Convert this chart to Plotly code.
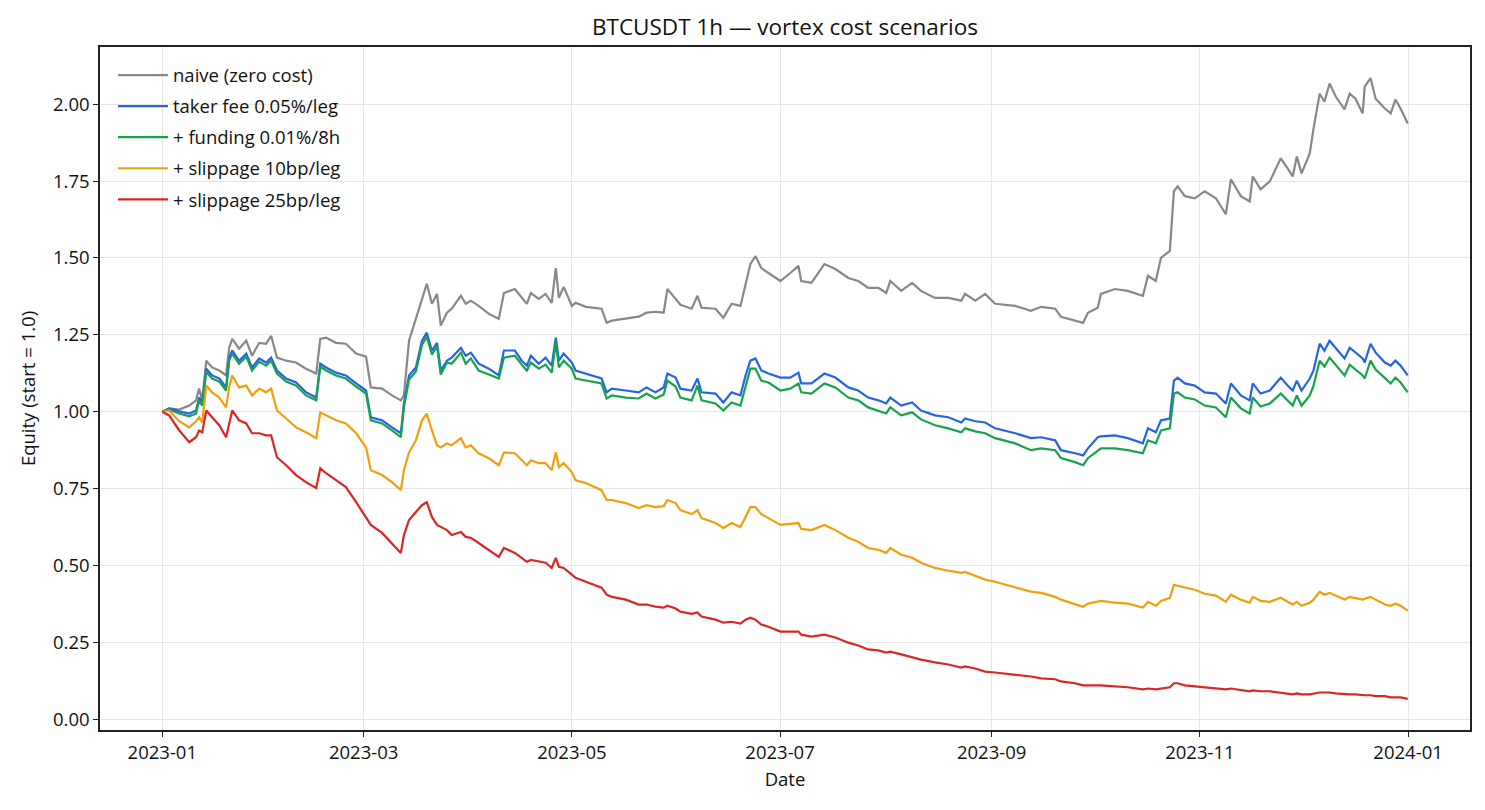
import pandas as pd
import plotly.graph_objects as go

# days since 2023-01-01 00:00 (hourly backtest, sampled at readable turning points)
start_date = "2023-01-01"
days = [
    0, 2.0, 5.0, 7.9, 9.9, 10.8, 11.7, 12.9, 14.6, 16.7,
    18.7, 19.6, 20.5, 22.5, 24.6, 26.3, 28.4, 30.4, 31.9, 33.6,
    36.3, 39.2, 42.1, 45.1, 46.3, 48.0, 50.9, 53.8, 56.8, 59.7,
    61.1, 64.4, 67.3, 69.9, 70.8, 72.3, 74.3, 76.1, 77.5, 79.0,
    80.5, 81.6, 83.4, 84.8, 87.5, 88.9, 90.4, 92.7, 95.7, 98.6,
    100.1, 103.3, 105.3, 106.8, 108.0, 110.3, 112.3, 114.1, 115.3, 116.2,
    117.6, 120.0, 121.1, 124.1, 128.7, 130.2, 131.7, 135.8, 139.6, 141.9,
    144.5, 146.9, 148.0, 150.4, 151.8, 155.1, 156.8, 158.0, 162.1, 164.4,
    166.8, 169.4, 170.9, 172.3, 173.8, 175.5, 177.6, 181.1, 184.0, 186.4,
    187.2, 190.2, 194.0, 197.2, 201.0, 203.9, 206.8, 209.8, 212.1, 213.3,
    216.5, 219.7, 222.3, 226.4, 230.3, 234.1, 235.2, 238.2, 241.1, 244.0,
    249.9, 254.5, 257.5, 261.6, 263.3, 267.4, 269.8, 271.2, 274.1, 275.0,
    279.1, 282.9, 287.3, 288.8, 291.1, 292.6, 295.2, 296.4, 297.5, 299.6,
    302.5, 305.4, 308.7, 311.6, 313.1, 316.0, 318.6, 319.5, 321.8, 324.5,
    327.7, 329.7, 331.2, 332.4, 333.8, 336.2, 337.3, 339.1, 340.5, 342.0,
    343.8, 346.4, 347.9, 349.6, 351.7, 352.3, 354.0, 355.5, 358.2, 359.9,
    361.3, 362.8, 364.9,
]

naive = [
    1.000, 1.011, 1.007, 1.020, 1.037, 1.075, 1.037, 1.166, 1.144, 1.134,
    1.118, 1.208, 1.237, 1.205, 1.231, 1.182, 1.224, 1.221, 1.247, 1.176,
    1.166, 1.160, 1.140, 1.124, 1.237, 1.241, 1.224, 1.221, 1.189, 1.179,
    1.079, 1.075, 1.053, 1.037, 1.053, 1.231, 1.302, 1.370, 1.416, 1.351,
    1.383, 1.280, 1.322, 1.335, 1.377, 1.351, 1.361, 1.344, 1.318, 1.302,
    1.386, 1.399, 1.370, 1.351, 1.386, 1.367, 1.383, 1.354, 1.467, 1.370,
    1.406, 1.344, 1.354, 1.341, 1.335, 1.289, 1.296, 1.302, 1.309, 1.322,
    1.325, 1.322, 1.399, 1.367, 1.348, 1.335, 1.377, 1.338, 1.335, 1.305,
    1.351, 1.344, 1.419, 1.480, 1.506, 1.467, 1.451, 1.425, 1.451, 1.474,
    1.425, 1.419, 1.480, 1.464, 1.435, 1.425, 1.403, 1.403, 1.386, 1.425,
    1.393, 1.419, 1.393, 1.370, 1.370, 1.361, 1.383, 1.361, 1.383, 1.351,
    1.344, 1.328, 1.341, 1.335, 1.309, 1.296, 1.289, 1.322, 1.338, 1.383,
    1.399, 1.393, 1.377, 1.442, 1.425, 1.500, 1.523, 1.717, 1.733, 1.701,
    1.694, 1.717, 1.694, 1.642, 1.756, 1.701, 1.684, 1.765, 1.723, 1.749,
    1.824, 1.791, 1.765, 1.830, 1.775, 1.840, 1.921, 2.034, 2.008, 2.067,
    2.025, 1.983, 2.034, 2.018, 1.970, 2.057, 2.085, 2.018, 1.986, 1.970,
    2.015, 1.986, 1.937,
]

taker_fee = [
    1.000, 1.011, 1.001, 0.994, 1.004, 1.046, 1.030, 1.140, 1.118, 1.108,
    1.079, 1.176, 1.199, 1.166, 1.189, 1.144, 1.173, 1.160, 1.176, 1.134,
    1.108, 1.095, 1.063, 1.046, 1.156, 1.144, 1.127, 1.118, 1.092, 1.069,
    0.982, 0.972, 0.949, 0.930, 1.027, 1.118, 1.144, 1.231, 1.257, 1.199,
    1.224, 1.134, 1.166, 1.176, 1.208, 1.182, 1.192, 1.156, 1.140, 1.118,
    1.199, 1.199, 1.166, 1.150, 1.182, 1.156, 1.176, 1.150, 1.241, 1.166,
    1.189, 1.160, 1.134, 1.124, 1.108, 1.063, 1.075, 1.069, 1.063, 1.079,
    1.063, 1.079, 1.124, 1.111, 1.075, 1.069, 1.108, 1.063, 1.059, 1.030,
    1.063, 1.053, 1.118, 1.166, 1.173, 1.134, 1.124, 1.111, 1.111, 1.127,
    1.092, 1.092, 1.124, 1.111, 1.079, 1.069, 1.046, 1.037, 1.027, 1.046,
    1.020, 1.030, 1.004, 0.988, 0.982, 0.965, 0.978, 0.969, 0.965, 0.946,
    0.930, 0.914, 0.917, 0.907, 0.875, 0.865, 0.858, 0.881, 0.917, 0.920,
    0.923, 0.914, 0.897, 0.946, 0.933, 0.972, 0.978, 1.101, 1.111, 1.092,
    1.085, 1.063, 1.059, 1.027, 1.092, 1.053, 1.037, 1.092, 1.059, 1.069,
    1.111, 1.085, 1.069, 1.101, 1.069, 1.108, 1.134, 1.221, 1.199, 1.231,
    1.208, 1.173, 1.208, 1.192, 1.173, 1.160, 1.221, 1.192, 1.160, 1.150,
    1.166, 1.150, 1.118,
]

with_funding = [
    1.000, 1.007, 0.994, 0.985, 0.994, 1.037, 1.020, 1.131, 1.108, 1.098,
    1.069, 1.166, 1.189, 1.156, 1.179, 1.134, 1.163, 1.150, 1.166, 1.124,
    1.098, 1.085, 1.053, 1.037, 1.147, 1.134, 1.118, 1.108, 1.082, 1.059,
    0.972, 0.962, 0.939, 0.917, 1.014, 1.105, 1.131, 1.218, 1.244, 1.186,
    1.212, 1.121, 1.160, 1.156, 1.192, 1.156, 1.173, 1.134, 1.121, 1.108,
    1.176, 1.182, 1.153, 1.134, 1.160, 1.140, 1.153, 1.127, 1.224, 1.144,
    1.166, 1.140, 1.108, 1.101, 1.092, 1.043, 1.053, 1.046, 1.043, 1.059,
    1.043, 1.056, 1.101, 1.082, 1.046, 1.037, 1.085, 1.037, 1.027, 1.004,
    1.030, 1.020, 1.085, 1.140, 1.140, 1.101, 1.095, 1.069, 1.075, 1.092,
    1.063, 1.059, 1.092, 1.079, 1.046, 1.037, 1.014, 1.004, 0.994, 1.014,
    0.988, 0.998, 0.975, 0.956, 0.946, 0.933, 0.946, 0.936, 0.930, 0.914,
    0.897, 0.875, 0.881, 0.875, 0.849, 0.836, 0.826, 0.849, 0.875, 0.881,
    0.881, 0.875, 0.865, 0.907, 0.897, 0.939, 0.946, 1.059, 1.063, 1.046,
    1.040, 1.020, 1.014, 0.982, 1.046, 1.011, 0.994, 1.046, 1.017, 1.027,
    1.059, 1.037, 1.020, 1.053, 1.020, 1.053, 1.085, 1.166, 1.147, 1.176,
    1.153, 1.118, 1.153, 1.137, 1.118, 1.108, 1.166, 1.137, 1.108, 1.092,
    1.111, 1.095, 1.063,
]

slip_10bp = [
    1.000, 1.004, 0.969, 0.949, 0.969, 0.982, 0.965, 1.085, 1.063, 1.046,
    1.014, 1.079, 1.118, 1.079, 1.085, 1.053, 1.075, 1.063, 1.075, 1.004,
    0.978, 0.949, 0.933, 0.914, 0.998, 0.988, 0.972, 0.962, 0.930, 0.884,
    0.810, 0.794, 0.771, 0.745, 0.810, 0.868, 0.907, 0.972, 0.994, 0.939,
    0.891, 0.884, 0.897, 0.891, 0.914, 0.884, 0.891, 0.865, 0.849, 0.826,
    0.868, 0.865, 0.842, 0.826, 0.842, 0.833, 0.833, 0.810, 0.868, 0.820,
    0.833, 0.803, 0.777, 0.768, 0.745, 0.713, 0.713, 0.703, 0.687, 0.696,
    0.690, 0.693, 0.713, 0.703, 0.680, 0.667, 0.680, 0.654, 0.638, 0.622,
    0.638, 0.625, 0.658, 0.690, 0.690, 0.667, 0.654, 0.632, 0.635, 0.638,
    0.619, 0.615, 0.632, 0.615, 0.590, 0.577, 0.557, 0.551, 0.541, 0.557,
    0.535, 0.525, 0.509, 0.492, 0.483, 0.476, 0.479, 0.466, 0.454, 0.447,
    0.428, 0.415, 0.411, 0.398, 0.389, 0.373, 0.366, 0.376, 0.382, 0.385,
    0.379, 0.376, 0.363, 0.382, 0.369, 0.385, 0.395, 0.437, 0.434, 0.428,
    0.421, 0.408, 0.402, 0.382, 0.405, 0.389, 0.379, 0.398, 0.385, 0.382,
    0.395, 0.382, 0.373, 0.382, 0.369, 0.379, 0.389, 0.415, 0.405, 0.411,
    0.402, 0.389, 0.398, 0.395, 0.389, 0.392, 0.398, 0.389, 0.373, 0.369,
    0.376, 0.369, 0.353,
]

slip_25bp = [
    1.000, 0.988, 0.939, 0.901, 0.917, 0.939, 0.933, 1.004, 0.982, 0.956,
    0.917, 0.956, 1.004, 0.972, 0.962, 0.930, 0.930, 0.923, 0.923, 0.852,
    0.826, 0.794, 0.771, 0.752, 0.816, 0.800, 0.777, 0.755, 0.706, 0.654,
    0.632, 0.606, 0.573, 0.541, 0.599, 0.648, 0.674, 0.696, 0.706, 0.658,
    0.632, 0.625, 0.615, 0.599, 0.609, 0.593, 0.590, 0.573, 0.551, 0.528,
    0.557, 0.541, 0.525, 0.512, 0.518, 0.512, 0.509, 0.492, 0.525, 0.496,
    0.492, 0.470, 0.460, 0.447, 0.428, 0.405, 0.398, 0.389, 0.373, 0.373,
    0.366, 0.363, 0.369, 0.360, 0.350, 0.343, 0.347, 0.334, 0.324, 0.314,
    0.317, 0.311, 0.324, 0.330, 0.324, 0.308, 0.301, 0.285, 0.285, 0.285,
    0.275, 0.269, 0.275, 0.266, 0.249, 0.240, 0.227, 0.224, 0.217, 0.220,
    0.211, 0.201, 0.194, 0.185, 0.178, 0.168, 0.172, 0.165, 0.155, 0.152,
    0.146, 0.139, 0.133, 0.130, 0.123, 0.117, 0.110, 0.110, 0.110, 0.110,
    0.107, 0.104, 0.097, 0.100, 0.097, 0.100, 0.104, 0.117, 0.117, 0.110,
    0.107, 0.104, 0.100, 0.097, 0.100, 0.094, 0.091, 0.094, 0.091, 0.091,
    0.087, 0.084, 0.081, 0.084, 0.081, 0.081, 0.084, 0.087, 0.087, 0.087,
    0.084, 0.081, 0.081, 0.081, 0.078, 0.078, 0.078, 0.075, 0.075, 0.071,
    0.071, 0.071, 0.066,
]

scenario_names = [
    "naive (zero cost)",
    "taker fee 0.05%/leg",
    "+ funding 0.01%/8h",
    "+ slippage 10bp/leg",
    "+ slippage 25bp/leg",
]
scenario_colors = ["#888888", "#2563eb", "#16a34a", "#f59e0b", "#dc2626"]
scenario_values = [naive, taker_fee, with_funding, slip_10bp, slip_25bp]

FONT = "Open Sans, Noto Sans, DejaVu Sans, sans-serif"
TEXT = "#111111"

# the page body keeps its default 8px margin, so the figure is sized to fit
W, H = 1477, 802

dates = pd.Timestamp(start_date) + pd.to_timedelta(days, unit="D")

fig = go.Figure()
for name, color, values in zip(scenario_names, scenario_colors, scenario_values):
    fig.add_trace(
        go.Scatter(
            x=dates,
            y=values,
            mode="lines",
            name=name,
            legendgroup=name,
            line=dict(color=color, width=2.2),
        )
    )

# matplotlib-style 5% padding around the data
span_x = dates.max() - dates.min()
x_range = [dates.min() - 0.05 * span_x, dates.max() + 0.05 * span_x]
all_vals = [v for series in scenario_values for v in series]
span_y = max(all_vals) - min(all_vals)
y_range = [min(all_vals) - 0.05 * span_y, max(all_vals) + 0.05 * span_y]

axis_common = dict(
    showline=True,
    linecolor="#222222",
    linewidth=1.5,
    mirror=True,
    ticks="outside",
    ticklen=5,
    tickwidth=1.2,
    tickcolor="#222222",
    showgrid=True,
    gridcolor="#e6e6e6",
    gridwidth=1,
    zeroline=False,
    tickfont=dict(family=FONT, size=18.5, color=TEXT),
)

margin = dict(l=92, r=15, t=39, b=80)
plot_w = W - margin["l"] - margin["r"]

fig.update_layout(
    width=W,
    height=H,
    paper_bgcolor="white",
    plot_bgcolor="white",
    margin=margin,
    title=dict(
        text="BTCUSDT 1h — vortex cost scenarios",
        x=(margin["l"] + plot_w / 2) / W,
        xanchor="center",
        y=1 - 19 / H,
        yanchor="middle",
        font=dict(family=FONT, size=22.5, color=TEXT),
    ),
    legend=dict(
        x=13 / plot_w,
        y=0.986,
        xanchor="left",
        yanchor="top",
        bgcolor="rgba(0,0,0,0)",
        font=dict(family=FONT, size=18.5, color=TEXT),
        tracegroupgap=4,
        itemwidth=50,
    ),
    showlegend=True,
)
fig.update_xaxes(
    axis_common,
    range=x_range,
    tickformat="%Y-%m",
    dtick="M2",
    tick0="2023-01-01",
    title=dict(text="Date", font=dict(family=FONT, size=18.5, color=TEXT), standoff=10),
)
fig.update_yaxes(
    axis_common,
    range=y_range,
    tickformat=".2f",
    dtick=0.25,
    tick0=0,
    title=dict(text="Equity (start = 1.0)", font=dict(family=FONT, size=18.5, color=TEXT), standoff=12),
)

fig.write_html("out.html")
